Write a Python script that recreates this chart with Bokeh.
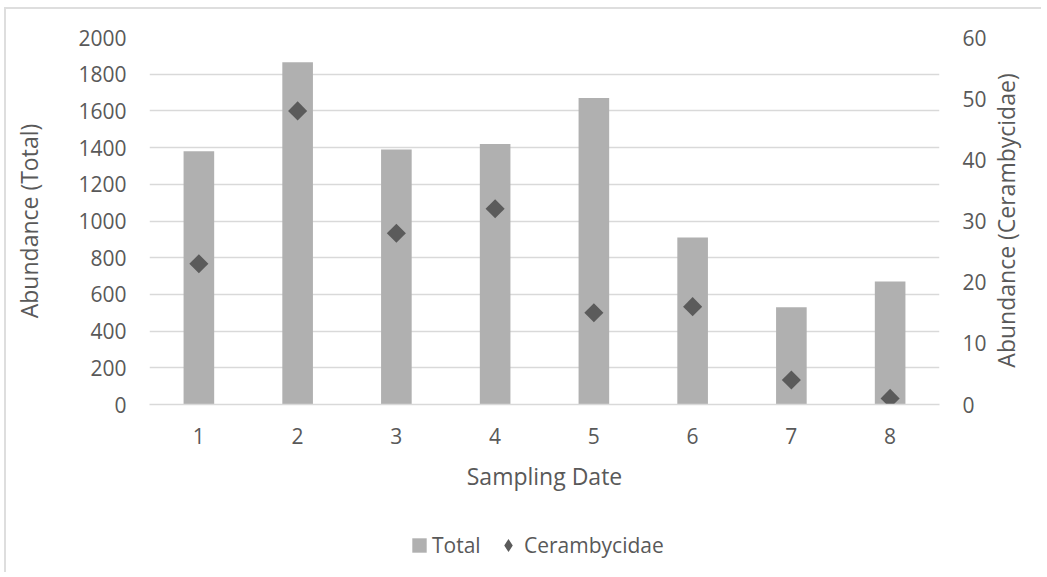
import numpy as np
from bokeh.plotting import figure
from bokeh.layouts import column, row
from bokeh.models import (ColumnDataSource, FactorRange, Range1d, LinearAxis,
                          FixedTicker, Legend, LegendItem, Label)
from bokeh.embed import file_html
from bokeh.resources import INLINE

# Sampling dates and abundances
dates = ["1", "2", "3", "4", "5", "6", "7", "8"]
total = [1380, 1865, 1390, 1420, 1670, 910, 530, 670]
cerambycidae = [23, 48, 28, 32, 15, 16, 4, 1]
left_ticks = [0, 200, 400, 600, 800, 1000, 1200, 1400, 1600, 1800, 2000]
right_ticks = [0, 10, 20, 30, 40, 50, 60]

FONT = "Open Sans"
TEXT = "#595959"
GRID = "#d9d9d9"
BAR = "#b0b0b0"
DOT = "#5b5b5b"

src = ColumnDataSource(dict(date=dates, total=total, cer=cerambycidae))

# ---------------------------------------------------------------- main chart
p = figure(
    x_range=FactorRange(*dates, range_padding=0, factor_padding=0),
    y_range=Range1d(0, 2000),
    frame_width=790, frame_height=367,
    min_border_left=143, min_border_right=50,
    min_border_top=28, min_border_bottom=100,
    output_backend="svg", toolbar_location=None,
)
p.outline_line_color = None

# secondary scale for Cerambycidae counts
p.extra_y_ranges = {"cer": Range1d(0, 60)}

bars = p.vbar(x="date", top="total", width=0.31, source=src,
              fill_color=BAR, line_color=None)
pts = p.scatter(x="date", y="cer", y_range_name="cer", source=src,
                marker="square", angle=np.pi / 4, size=13.5,
                fill_color=DOT, line_color=None)

p.xgrid.visible = False
p.ygrid.ticker = FixedTicker(ticks=left_ticks)
p.ygrid.grid_line_color = GRID
p.ygrid.grid_line_width = 1.5


def style_axis(ax, title_standoff, label_standoff):
    ax.major_tick_line_color = None
    ax.minor_tick_line_color = None
    ax.major_label_text_font = FONT
    ax.major_label_text_font_size = "21px"
    ax.major_label_text_color = TEXT
    ax.axis_label_text_font = FONT
    ax.axis_label_text_font_size = "23px"
    ax.axis_label_text_font_style = "normal"
    ax.axis_label_text_color = TEXT
    ax.axis_label_standoff = title_standoff
    ax.major_label_standoff = label_standoff


xax = p.xaxis[0]
style_axis(xax, 13, 17)
xax.axis_label = "Sampling Date"
xax.axis_line_color = GRID
xax.axis_line_width = 1.5

yax = p.yaxis[0]
yax.ticker = FixedTicker(ticks=left_ticks)
style_axis(yax, 30, 17)
yax.axis_label = "Abundance (Total)"
yax.axis_line_color = None

rax = LinearAxis(y_range_name="cer", ticker=FixedTicker(ticks=right_ticks))
style_axis(rax, 12, 17)
rax.axis_line_color = None
p.add_layout(rax, "right")

# ------------------------------------------- strip holding the right-axis title
side = figure(width=52, height=495, x_range=Range1d(0, 1), y_range=Range1d(0, 1),
              x_axis_type=None, y_axis_type=None, min_border=0,
              output_backend="svg", toolbar_location=None)
side.outline_line_color = None
side.grid.visible = False
side.add_layout(Label(
    x=16, y=184, x_units="screen", y_units="screen",
    text="Abundance (Cerambycidae)", angle=np.pi / 2,
    text_align="center", text_baseline="middle",
    text_font=FONT, text_font_size="23px", text_color=TEXT,
))

# ----------------------------------------------------------- legend strip
foot = figure(width=1035, height=68, x_range=Range1d(0, 1), y_range=Range1d(0, 1),
              x_axis_type=None, y_axis_type=None, min_border=0,
              output_backend="svg", toolbar_location=None)
foot.outline_line_color = None
foot.grid.visible = False
# key swatches: renderers with a single undrawn (NaN) row, used only by the legends
key_src = ColumnDataSource(dict(x=[np.nan], y=[np.nan]))
key_bar = foot.vbar(x="x", top="y", width=0.31, source=key_src,
                    fill_color=BAR, line_color=None)
key_pt = foot.scatter(x="x", y="y", source=key_src, marker="diamond",
                      fill_color=DOT, line_color=None)

common = dict(orientation="horizontal", label_text_font=FONT,
              label_text_font_size="21px", label_text_color=TEXT,
              border_line_color=None, background_fill_alpha=0,
              padding=0, margin=0)
foot.add_layout(Legend(items=[LegendItem(label="Total", renderers=[key_bar])],
                       location=(404, 13), glyph_width=18, glyph_height=18,
                       label_standoff=4, **common))
foot.add_layout(Legend(items=[LegendItem(label="Cerambycidae", renderers=[key_pt])],
                       location=(486, 11), glyph_width=32, glyph_height=32,
                       label_standoff=0, **common))

layout = column(
    row(p, side),
    foot,
    margin=(7, 0, 0, 4),
    styles={"border-left": "2px solid #dedede", "border-top": "2px solid #dedede"},
)

open("out.html", "w").write(file_html(layout, INLINE))
